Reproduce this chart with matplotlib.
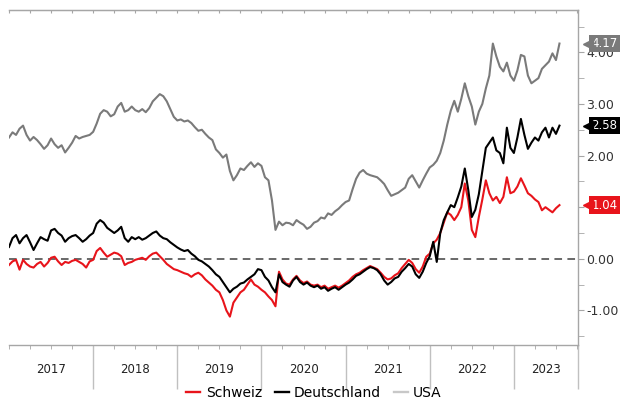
import matplotlib
matplotlib.use("Agg")
import matplotlib.pyplot as plt
import matplotlib.transforms as mtransforms
from matplotlib.lines import Line2D
import numpy as np

plt.rcParams['font.family'] = ['DejaVu Sans']

# semi-monthly readings, Jan 2017 .. Jul 2023
usa = [2.35, 2.45, 2.40, 2.52, 2.58, 2.40, 2.29, 2.36, 2.30, 2.22, 2.13, 2.20, 2.33, 2.22, 2.15, 2.20, 2.06, 2.15, 2.25, 2.38, 2.33, 2.36, 2.38, 2.40,
       2.46, 2.62, 2.81, 2.88, 2.85, 2.76, 2.80, 2.95, 3.02, 2.85, 2.88, 2.95, 2.88, 2.85, 2.90, 2.84, 2.92, 3.05, 3.12, 3.19, 3.15, 3.05, 2.90, 2.75,
       2.68, 2.70, 2.66, 2.68, 2.63, 2.55, 2.48, 2.50, 2.42, 2.35, 2.30, 2.12, 2.05, 1.96, 2.02, 1.70, 1.52, 1.62, 1.75, 1.72, 1.80, 1.87, 1.78, 1.85,
       1.80, 1.58, 1.52, 1.13, 0.56, 0.72, 0.65, 0.70, 0.69, 0.65, 0.75, 0.70, 0.66, 0.58, 0.62, 0.70, 0.73, 0.80, 0.78, 0.88, 0.85, 0.92, 0.97, 1.04,
       1.10, 1.13, 1.35, 1.55, 1.67, 1.72, 1.65, 1.62, 1.60, 1.58, 1.52, 1.45, 1.33, 1.22, 1.25, 1.28, 1.33, 1.38, 1.55, 1.62, 1.50, 1.38, 1.52, 1.65,
       1.77, 1.82, 1.90, 2.05, 2.29, 2.60, 2.87, 3.06, 2.85, 3.10, 3.40, 3.15, 2.95, 2.60, 2.85, 3.00, 3.30, 3.55, 4.17, 3.92, 3.72, 3.63, 3.80, 3.55,
       3.45, 3.65, 3.95, 3.92, 3.55, 3.40, 3.45, 3.50, 3.68, 3.75, 3.82, 3.98, 3.85, 4.17]

deutschland = [0.23, 0.40, 0.46, 0.30, 0.40, 0.46, 0.32, 0.17, 0.30, 0.42, 0.38, 0.35, 0.55, 0.58, 0.50, 0.45, 0.33, 0.40, 0.44, 0.46, 0.40, 0.33, 0.38, 0.45,
               0.50, 0.68, 0.75, 0.70, 0.60, 0.55, 0.50, 0.55, 0.62, 0.40, 0.33, 0.42, 0.38, 0.42, 0.37, 0.40, 0.45, 0.50, 0.53, 0.45, 0.40, 0.38, 0.32, 0.27,
               0.22, 0.18, 0.15, 0.17, 0.10, 0.05, -0.02, -0.05, -0.10, -0.15, -0.22, -0.30, -0.35, -0.45, -0.55, -0.65, -0.58, -0.54, -0.48, -0.46, -0.40, -0.35, -0.30, -0.20,
               -0.22, -0.35, -0.42, -0.55, -0.65, -0.30, -0.45, -0.50, -0.54, -0.42, -0.35, -0.45, -0.50, -0.46, -0.52, -0.55, -0.52, -0.58, -0.55, -0.62, -0.58, -0.55, -0.60, -0.55,
               -0.50, -0.46, -0.40, -0.33, -0.30, -0.25, -0.20, -0.16, -0.18, -0.22, -0.30, -0.42, -0.50, -0.45, -0.38, -0.35, -0.25, -0.18, -0.10, -0.15, -0.30, -0.37, -0.25, -0.08,
               0.05, 0.33, -0.06, 0.50, 0.75, 0.90, 1.04, 1.00, 1.19, 1.40, 1.75, 1.33, 0.81, 0.95, 1.25, 1.70, 2.15, 2.25, 2.35, 2.10, 2.05, 1.85, 2.54, 2.15,
               2.05, 2.35, 2.71, 2.40, 2.13, 2.25, 2.35, 2.29, 2.45, 2.54, 2.35, 2.54, 2.42, 2.58]

schweiz = [-0.12, -0.05, -0.02, -0.21, -0.02, -0.10, -0.15, -0.17, -0.10, -0.06, -0.15, -0.08, 0.02, 0.04, -0.05, -0.12, -0.06, -0.08, -0.04, -0.02, -0.06, -0.10, -0.17, -0.05,
           -0.02, 0.15, 0.21, 0.12, 0.04, 0.08, 0.12, 0.10, 0.05, -0.12, -0.08, -0.06, -0.02, 0.00, 0.02, -0.02, 0.05, 0.10, 0.12, 0.05, -0.02, -0.10, -0.15, -0.20,
           -0.22, -0.25, -0.28, -0.30, -0.35, -0.30, -0.27, -0.32, -0.40, -0.46, -0.52, -0.60, -0.65, -0.80, -1.00, -1.12, -0.85, -0.75, -0.65, -0.60, -0.50, -0.40, -0.50, -0.54,
           -0.60, -0.65, -0.73, -0.80, -0.92, -0.25, -0.40, -0.48, -0.50, -0.40, -0.33, -0.42, -0.47, -0.44, -0.50, -0.52, -0.50, -0.55, -0.52, -0.58, -0.55, -0.52, -0.56, -0.52,
           -0.47, -0.42, -0.35, -0.30, -0.27, -0.22, -0.18, -0.14, -0.17, -0.20, -0.27, -0.35, -0.40, -0.38, -0.32, -0.28, -0.18, -0.10, -0.02, -0.08, -0.20, -0.27, -0.15, 0.04,
           0.10, 0.30, 0.37, 0.50, 0.70, 0.90, 0.85, 0.75, 0.85, 1.00, 1.46, 1.13, 0.56, 0.42, 0.81, 1.15, 1.52, 1.27, 1.13, 1.20, 1.08, 1.20, 1.58, 1.27,
           1.30, 1.40, 1.56, 1.42, 1.27, 1.22, 1.15, 1.10, 0.94, 1.00, 0.95, 0.90, 0.98, 1.04]

years = [2017, 2018, 2019, 2020, 2021, 2022, 2023]
year_labels = ["2017", "2018", "2019", "2020", "2021", "2022", "2023"]
ytick_vals = [-1, 0, 1, 2, 3, 4]
ytick_labels = ["-1.00", "0.00", "", "2.00", "3.00", "4.00"]  # 1.00 sits under the 1.04 tag
last_vals = [4.17, 2.58, 1.04]

t = 2017 + np.arange(len(usa)) / 24.0
x_end = 2023.76

RED = "#e8141b"
GREY = "#7a7a7a"
AXC = "#a6a6a6"

fig = plt.figure(figsize=(6.22, 4.03), dpi=100)
ax = fig.add_axes([0.0145, 0.1439, 0.929 - 0.0145, 0.9752 - 0.1439])

ax.axhline(0, color="#404040", lw=1.1, ls=(0, (5, 3.5)), zorder=1)
ax.plot(t, schweiz, color=RED, lw=1.5, zorder=2)
ax.plot(t, deutschland, color="black", lw=1.5, zorder=3)
ax.plot(t, usa, color=GREY, lw=1.5, zorder=2.5)

ax.set_xlim(2017, x_end)
ax.set_ylim(-1.67, 4.82)

# spines
ax.spines["left"].set_visible(False)
for s in ["right", "top", "bottom"]:
    ax.spines[s].set_color(AXC)
    ax.spines[s].set_linewidth(1.0)

# y axis on the right
ax.yaxis.tick_right()
ax.set_yticks(ytick_vals)
ax.set_yticklabels(ytick_labels)
ax.set_yticks(np.arange(-1.5, 4.6, 0.5), minor=True)
ax.tick_params(axis="y", which="both", direction="out", length=4, color=AXC,
               labelsize=9, labelcolor="#333333", pad=2)

# x axis: year separators and quarter ticks
quarters = [y + q / 4 for y in range(2017, 2024) for q in range(4)]
ax.set_xticks(years[1:] + [x_end])
ax.set_xticklabels([])
ax.set_xticks([q for q in quarters if q < x_end], minor=True)
ax.tick_params(axis="x", which="major", direction="out", length=32, color="#c0c0c0", width=1.0)
ax.tick_params(axis="x", which="minor", direction="out", length=3, color=AXC)

top = ax.secondary_xaxis("top")
top.set_xticks([q for q in quarters if q < x_end])
top.set_xticklabels([])
top.tick_params(direction="in", length=2.5, color=AXC)
top.spines["top"].set_color(AXC)

trans = mtransforms.blended_transform_factory(ax.transData, ax.transAxes)
for y, lab in zip(years, year_labels):
    xc = (y + min(y + 1, x_end)) / 2
    ax.text(xc, -0.072, lab, transform=trans, ha="center", va="center",
            fontsize=8.5, color="#222222")

# value tags on the right
tagtrans = mtransforms.blended_transform_factory(ax.transAxes, ax.transData)
for v, col in zip(last_vals, [GREY, "black", RED]):
    ax.text(1.024, v, "%.2f" % v, transform=tagtrans, ha="left", va="center",
            fontsize=8.5, color="white", zorder=10, clip_on=False,
            bbox=dict(boxstyle="square,pad=0.18", fc=col, ec="none"))
    ax.plot([1.017], [v], marker="<", ms=7, color=col, transform=tagtrans,
            clip_on=False, zorder=10)

handles = [Line2D([], [], color=RED, lw=1.7),
           Line2D([], [], color="black", lw=1.7),
           Line2D([], [], color="#c8c8c8", lw=1.7)]
fig.legend(handles, ["Schweiz", "Deutschland", "USA"], loc="center",
           bbox_to_anchor=(0.505, 0.025), ncol=3, frameon=False, fontsize=10,
           handlelength=1.0, handletextpad=0.4, columnspacing=0.9)

fig.savefig("out.png", dpi=100)
